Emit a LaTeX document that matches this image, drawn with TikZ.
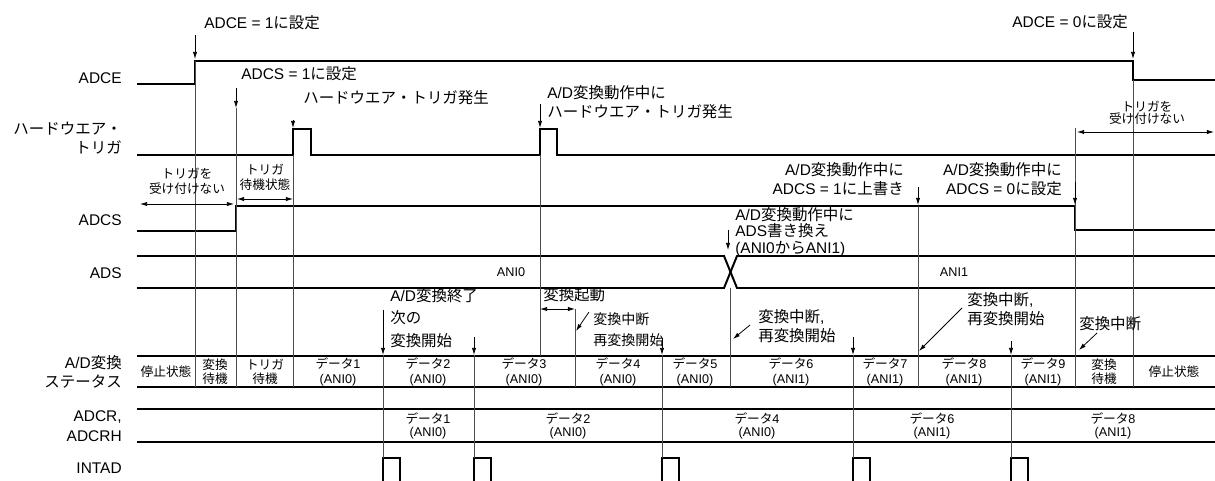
\documentclass[tikz,border=0pt]{standalone}
\usepackage{fontspec}
\setmainfont{Liberation Sans}
\newfontfamily\jpfont{Noto Sans CJK JP}
\newcommand{\J}[1]{{\jpfont #1}}
\usetikzlibrary{arrows.meta}

\begin{document}
\begin{tikzpicture}[
    x=0.025cm, y=-0.025cm,
    sigline/.style={line width=1.4pt},
    guide/.style={black!70, line width=0.55pt},
    pointer/.style={-{Latex[length=5pt,width=3pt]}, line width=0.55pt},
    spanarrow/.style={{Latex[length=5pt,width=3pt]}-{Latex[length=5pt,width=3pt]}, line width=0.55pt},
    siglabel/.style={anchor=east, align=right, inner sep=0pt, font=\fontsize{11}{14}\selectfont},
    note/.style={anchor=west, align=left, inner sep=0pt, font=\fontsize{11}{14}\selectfont},
    rnote/.style={anchor=east, align=right, inner sep=0pt, font=\fontsize{11}{14}\selectfont},
    smallnote/.style={align=center, inner sep=0pt, font=\fontsize{9}{10.7}\selectfont},
    cellnote/.style={align=center, inner sep=0pt, font=\fontsize{9}{10.2}\selectfont}
  ]
    \useasboundingbox (0,0) rectangle (1215,480);

    % signal names
    \node[siglabel] (lADCE) at (122,78) {ADCE};
    \node[siglabel] (lHW) at (122,138) {\J{ハードウエア・}\\\J{トリガ}};
    \node[siglabel] (lADCS) at (122,220) {ADCS};
    \node[siglabel] (lADS) at (122,273) {ADS};
    \node[siglabel] (lST) at (122,372) {A/D\J{変換}\\\J{ステータス}};
    \node[siglabel] (lADCR) at (122,426) {ADCR,\\ADCRH};
    \node[siglabel] (lINT) at (122,468) {INTAD};

    % waveforms
    \draw[sigline] (137,84) -- (195,84) -- (195,61) -- (1133,61) -- (1133,80) -- (1215,80);
    \draw[sigline] (137,155) -- (293,155) -- (293,129) -- (311,129) -- (311,155)
      -- (540,155) -- (540,129) -- (557,129) -- (557,155) -- (1215,155);
    \draw[sigline] (137,231) -- (236,231) -- (236,206) -- (1075,206) -- (1075,230) -- (1215,230);
    \draw[sigline] (137,256) -- (724,256) -- (737,288) -- (1215,288);
    \draw[sigline] (137,288) -- (724,288) -- (737,256) -- (1215,256);
    \draw[sigline] (137,356) -- (1215,356);
    \draw[sigline] (137,387) -- (1215,387);
    \draw[sigline] (137,409) -- (1215,409);
    \draw[sigline] (137,442) -- (1215,442);
    \foreach \t in {383,474,662,853,1011}
      \draw[sigline] (\t,482) -- (\t,458) -- (\t+17,458) -- (\t+17,482);

    % guide lines
    \draw[guide] (195,61) -- (195,387);
    \draw[guide] (236,108) -- (236,387);
    \draw[guide] (293,155) -- (293,387);
    \draw[guide] (540,155) -- (540,356);
    \draw[guide] (575,309) -- (575,387);
    \draw[guide] (730,288) -- (730,387);
    \draw[guide] (918,206) -- (918,387);
    \draw[guide] (1075,128) -- (1075,387);
    \draw[guide] (1133,80) -- (1133,387);
    \foreach \t in {383,474,662,853,1011}
      \draw[guide] (\t,355) -- (\t,458);

    % event arrows
    \draw[pointer] (195,35) -- (195,59);
    \draw[pointer] (236,88) -- (236,108);
    \draw[pointer] (293,120) -- (293,128);
    \draw[pointer] (540,104) -- (540,128);
    \draw[pointer] (1133,32) -- (1133,59);
    \draw[pointer] (918,187) -- (918,205);
    \draw[pointer] (1075,182) -- (1075,205);
    \draw[pointer] (728,230) -- (728,250);
    \draw[pointer] (383,310) -- (383,355);
    \draw[pointer] (474,337) -- (474,355);
    \draw[pointer] (662,338) -- (662,355);
    \draw[pointer] (853,337) -- (853,355);
    \draw[pointer] (1011,341) -- (1011,355);
    \draw[pointer] (589,312) -- (576,331);
    \draw[pointer] (750,325) -- (733,339);
    \draw[pointer] (962,308) -- (919,351);
    \draw[pointer] (1097,333) -- (1079,350);

    % ranges
    \draw[spanarrow] (140,204) -- (234,204);
    \draw[spanarrow] (237,199) -- (293,199);
    \draw[spanarrow] (1077,132) -- (1214,132);
    \draw[spanarrow] (540,309) -- (575,309);
    \node[smallnote] (nNoTrigA) at (187,181) {\J{トリガを}\\\J{受け付けない}};
    \node[smallnote] (nWait) at (265,177) {\J{トリガ}\\\J{待機状態}};
    \node[smallnote, font=\fontsize{9}{8.6}\selectfont] (nNoTrigB) at (1147,113) {\J{トリガを}\\\J{受け付けない}};

    % annotations
    \node[note] (nADCE1) at (204,23) {ADCE = 1\J{に設定}};
    \node[note] (nADCS1) at (241,74) {ADCS = 1\J{に設定}};
    \node[note] (nHW1) at (303,98) {\J{ハードウエア・トリガ発生}};
    \node[note] (nHW2) at (547,102) {A/D\J{変換動作中に}\\\J{ハードウエア・トリガ発生}};
    \node[note] (nADCE0) at (1012,22) {ADCE = 0\J{に設定}};
    \node[rnote] (nOver) at (904,179) {A/D\J{変換動作中に}\\ADCS = 1\J{に上書き}};
    \node[rnote] (nADCS0) at (1062,179) {A/D\J{変換動作中に}\\ADCS = 0\J{に設定}};
    \node[note, font=\fontsize{11}{11.8}\selectfont] (nADS) at (735,232) {A/D\J{変換動作中に}\\ADS\J{書き換え}\\(ANI0\J{から}ANI1)};
    \node[note, font=\fontsize{11}{16}\selectfont] (nEnd) at (390,318) {A/D\J{変換終了}\\\J{次の}\\\J{変換開始}};
    \node[note] (nStart) at (543,295) {\J{変換起動}};
    \node[note, font=\fontsize{10}{15}\selectfont] (nAbort1) at (593,330) {\J{変換中断}\\\J{再変換開始}};
    \node[note, font=\fontsize{11}{13}\selectfont] (nAbort2) at (758,326) {\J{変換中断},\\\J{再変換開始}};
    \node[note, font=\fontsize{11}{13.5}\selectfont] (nAbort3) at (967,309) {\J{変換中断},\\\J{再変換開始}};
    \node[note] (nAbort4) at (1079,324) {\J{変換中断}};

    % ADS values
    \node[cellnote] (vANI0) at (511,272) {ANI0};
    \node[cellnote] (vANI1) at (954,272) {ANI1};

    % conversion status
    \foreach \x/\txt [count=\i] in {166/{\J{停止状態}}, 215/{\J{変換}\\\J{待機}}, 265/{\J{トリガ}\\\J{待機}},
        338/{\J{データ}1\\(ANI0)}, 428/{\J{データ}2\\(ANI0)}, 524/{\J{データ}3\\(ANI0)},
        618/{\J{データ}4\\(ANI0)}, 695/{\J{データ}5\\(ANI0)}, 791/{\J{データ}6\\(ANI1)},
        885/{\J{データ}7\\(ANI1)}, 964/{\J{データ}8\\(ANI1)}, 1043/{\J{データ}9\\(ANI1)},
        1104/{\J{変換}\\\J{待機}}, 1174/{\J{停止状態}}}
      \node[cellnote] (st\i) at (\x,372) {\txt};

    % ADCR, ADCRH contents
    \foreach \x/\txt [count=\i] in {428/{\J{データ}1\\(ANI0)}, 568/{\J{データ}2\\(ANI0)},
        757/{\J{データ}4\\(ANI0)}, 932/{\J{データ}6\\(ANI1)}, 1113/{\J{データ}8\\(ANI1)}}
      \node[cellnote, font=\fontsize{9}{9.5}\selectfont] (cr\i) at (\x,426) {\txt};
\end{tikzpicture}
\end{document}
